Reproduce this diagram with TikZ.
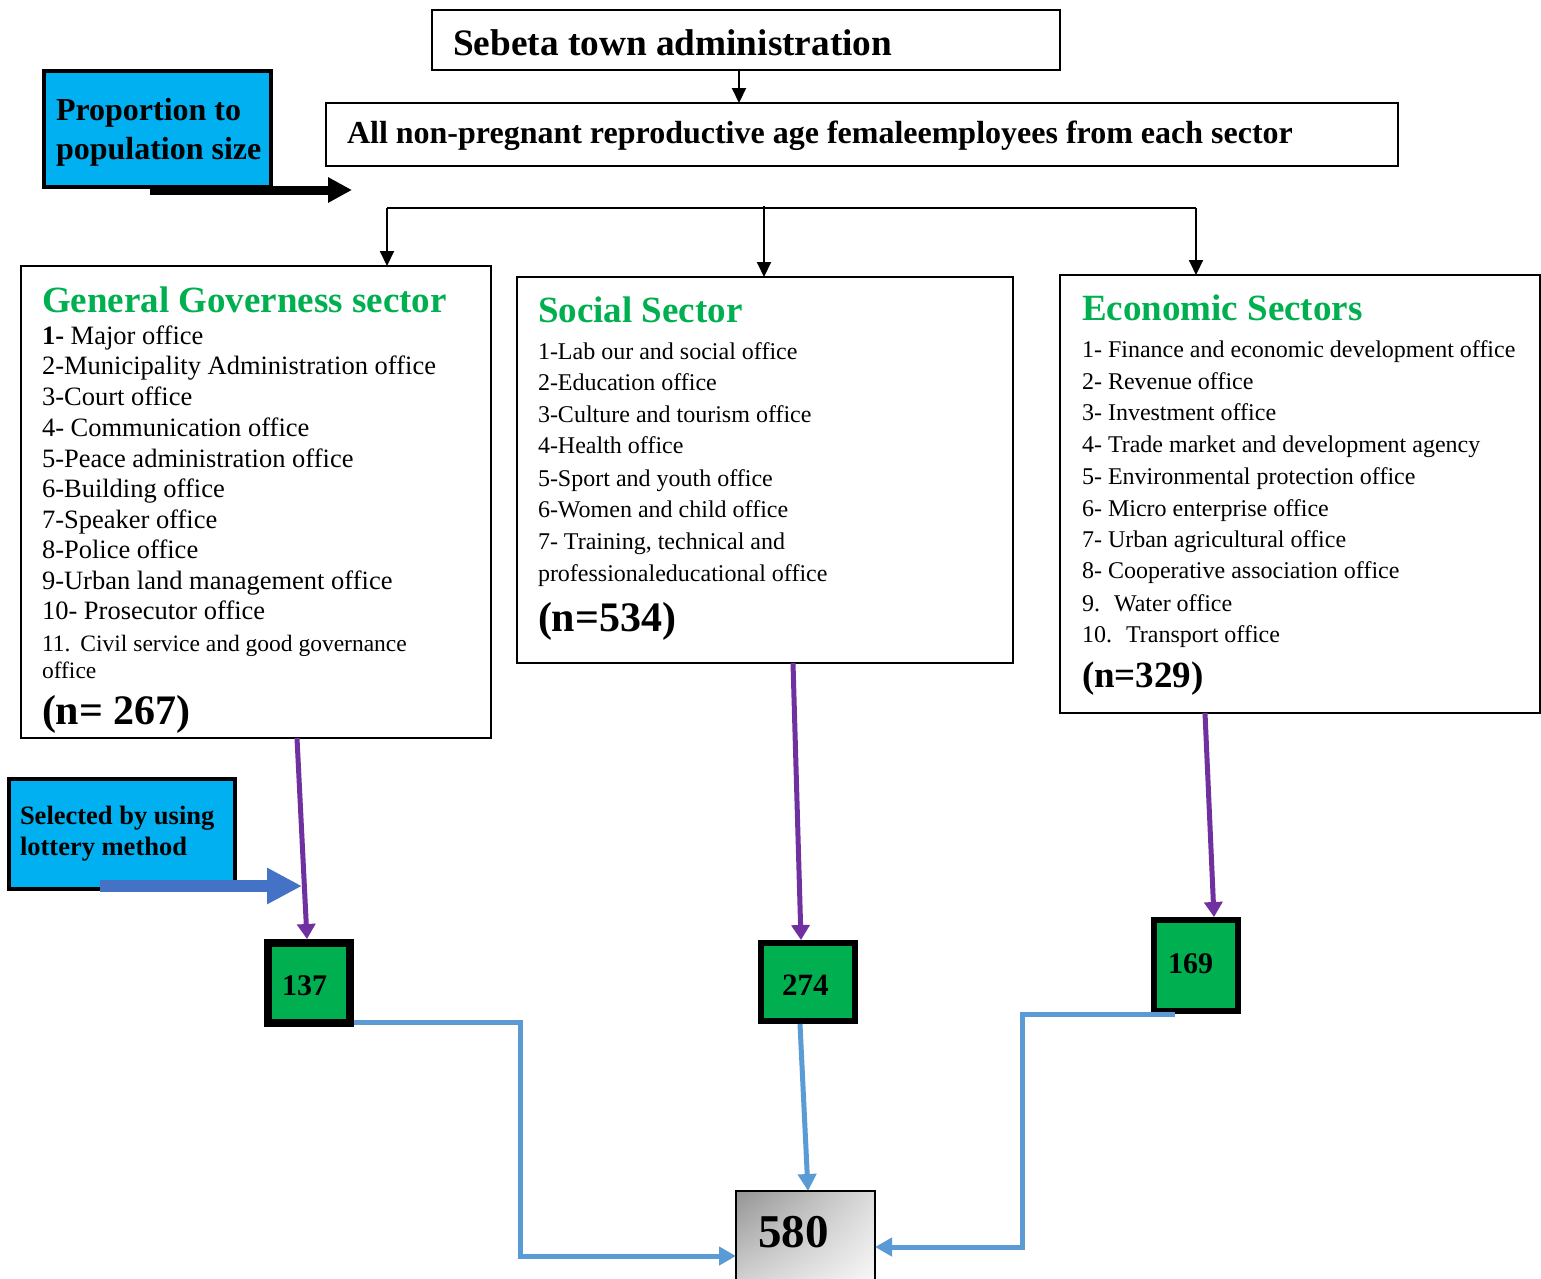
\documentclass[tikz,border=0pt]{standalone}
\usepackage{fontspec}
\setmainfont{Liberation Serif}
\usetikzlibrary{arrows.meta,shadings}
\definecolor{cyanbox}{HTML}{00B0F0}
\definecolor{greenbox}{HTML}{00B050}
\definecolor{purp}{HTML}{7030A0}
\definecolor{lblue}{HTML}{5B9BD5}
\definecolor{dblue}{HTML}{4472C4}
\begin{document}
\begin{tikzpicture}[x=1pt,y=-1pt,
  box/.style={draw=black, line width=2pt, inner sep=0pt, outer sep=0pt, anchor=north west},
  cbox/.style={draw=black, line width=4pt, fill=cyanbox, inner sep=0pt, outer sep=0pt, anchor=north west},
  gbox/.style={draw=black, line width=#1, fill=greenbox, inner sep=0pt, outer sep=0.5*#1, anchor=north west},
  txt/.style={anchor=base west, inner sep=0pt, outer sep=0pt},
  head/.style={txt, font=\fontsize{37}{44}\selectfont\bfseries, text=greenbox},
  ggitem/.style={txt, font=\fontsize{26.5}{30}\selectfont},
  ggsmall/.style={txt, font=\fontsize{23.5}{28}\selectfont},
  item/.style={txt, font=\fontsize{24}{29}\selectfont},
  thinarrow/.style={draw=black, line width=2pt, -{Triangle[length=15pt,width=14pt]}},
  purparrow/.style={draw=purp, line width=5pt, -{Triangle[length=15pt,width=18pt]}},
  bluearrow/.style={draw=lblue, line width=5pt, -{Triangle[length=17pt,width=18pt]}},
]
\useasboundingbox (0,0) rectangle (1541,1278);
\clip (0,0) rectangle (1541,1278);
\fill[white] (0,0) rectangle (1541,1278);

% top boxes
\node[box, minimum width=628, minimum height=60] (seb) at (432,10) {};
\node[txt, font=\fontsize{37.3}{44}\selectfont\bfseries] (sebt) at (453,55) {Sebeta town administration};
\node[box, minimum width=1072, minimum height=63] (all) at (326,103) {};
\node[txt, font=\fontsize{32}{38}\selectfont\bfseries] (allt) at (347,143) {All non-pregnant reproductive age femaleemployees from each sector};

\coordinate (xs) at (739,0);
\draw[thinarrow] (seb.south -| xs) -- (all.north -| xs);

% proportion box
\node[cbox, minimum width=227, minimum height=116] (prop) at (44,71) {};
\node[txt, font=\fontsize{32}{38}\selectfont\bfseries] (prop1) at (56,120) {Proportion to};
\node[txt, font=\fontsize{32}{38}\selectfont\bfseries] (prop2) at (56,159) {population size};
\coordinate (pa) at (150,190);
\coordinate (pb) at (352,190);
\draw[line width=9pt, -{Triangle[length=24pt,width=24pt]}] (pa) -- (pb);

% sector boxes
\node[box, minimum width=470, minimum height=472] (gg) at (21,266) {};
\node[box, minimum width=496, minimum height=386] (soc) at (517,277) {};
\node[box, minimum width=480, minimum height=438] (eco) at (1060,275) {};

% branch
\coordinate (b1) at (387,208);
\coordinate (b2) at (764,208);
\coordinate (b3) at (1196,208);
\draw[black, line width=2pt] (b1) -- (b3);
\draw[thinarrow] (b1) -- (gg.north -| b1);
\draw[thinarrow] ([yshift=2pt]b2) -- (soc.north -| b2);
\draw[thinarrow] (b3) -- (eco.north -| b3);

% general governess
\node[head] (ggh) at (42,312) {General Governess sector};
\foreach \y/\t [count=\i] in {344/{\textbf{1-} Major office},
  374/{2-Municipality Administration office},
  405/{3-Court office},
  436/{4- Communication office},
  467/{5-Peace administration office},
  497/{6-Building office},
  528/{7-Speaker office},
  558/{8-Police office},
  589/{9-Urban land management office},
  619/{10- Prosecutor office}}
  \node[ggitem] (gg\i) at (42,\y) {\t};
\node[ggsmall] (gg11) at (42,651) {11.\hspace{10pt}Civil service and good governance};
\node[ggsmall] (gg12) at (42,678) {office};
\node[txt, font=\fontsize{42}{48}\selectfont\bfseries] (ggn) at (42,724) {(n= 267)};

% social
\node[head] (soch) at (538,322) {Social Sector};
\foreach \y/\t [count=\i] in {359/{1-Lab our and social office},
  390/{2-Education office},
  422/{3-Culture and tourism office},
  453/{4-Health office},
  486/{5-Sport and youth office},
  517/{6-Women and child office},
  549/{7- Training, technical and},
  581/{professionaleducational office}}
  \node[item] (soc\i) at (538,\y) {\t};
\node[txt, font=\fontsize{42}{48}\selectfont\bfseries] (socn) at (538,631) {(n=534)};

% economic
\node[head] (ecoh) at (1082,320) {Economic Sectors};
\foreach \y/\t [count=\i] in {357/{1- Finance and economic development office},
  389/{2- Revenue office},
  420/{3- Investment office},
  452/{4- Trade market and development agency},
  484/{5- Environmental protection office},
  516/{6- Micro enterprise office},
  547/{7- Urban agricultural office},
  578/{8- Cooperative association office},
  611/{9.\hspace{14pt}Water office},
  642/{10.\hspace{14pt}Transport office}}
  \node[item] (eco\i) at (1082,\y) {\t};
\node[txt, font=\fontsize{37}{44}\selectfont\bfseries] (econ) at (1082,687) {(n=329)};

% selected box
\node[cbox, minimum width=226, minimum height=110] (sel) at (9,779) {};
\node[txt, font=\fontsize{26.5}{30}\selectfont\bfseries] (sel1) at (20,824) {Selected by using};
\node[txt, font=\fontsize{26.5}{30}\selectfont\bfseries] (sel2) at (20,855) {lottery method};

% number boxes
\node[gbox=8pt, minimum width=82, minimum height=80] (n137) at (264,939) {};
\node[txt, font=\fontsize{30}{36}\selectfont\bfseries] (t137) at (282,995) {137};
\node[gbox=6pt, minimum width=94, minimum height=78] (n274) at (758,940) {};
\node[txt, font=\fontsize{31}{36}\selectfont\bfseries] (t274) at (782,995) {274};
\node[gbox=6pt, minimum width=84, minimum height=91] (n169) at (1151,917) {};
\node[txt, font=\fontsize{30}{36}\selectfont\bfseries] (t169) at (1168,973) {169};

\node[draw=black, line width=2pt, inner sep=0pt, outer sep=0pt, anchor=north west,
  minimum width=139, minimum height=91,
  upper left=black!42, upper right=black!14, lower left=black!18, lower right=black!3] (n580) at (736,1191) {};
\node[txt, font=\fontsize{47}{54}\selectfont\bfseries] (t580) at (758,1247) {580};

% lottery arrow
\coordinate (sa) at (100,886);
\coordinate (sb) at (302,886);
\draw[dblue, line width=12pt, -{Triangle[length=35pt,width=34pt]}] (sa) -- (sb);

% purple arrows
\coordinate (xa) at (297,0); \coordinate (xb) at (307,0);
\coordinate (xc) at (793,0); \coordinate (xd) at (801,0);
\coordinate (xe) at (1205,0); \coordinate (xf) at (1214,0);
\draw[purparrow] (gg.south -| xa) -- (n137.north -| xb);
\draw[purparrow] (soc.south -| xc) -- (n274.north -| xd);
\draw[purparrow] (eco.south -| xe) -- (n169.north -| xf);

% blue connectors
\coordinate (c1) at (520,1022);
\coordinate (c2) at (520,1256);
\draw[bluearrow] (n137.east |- c1) -- (c1) -- (c2) -- (n580.west |- c2);
\coordinate (xm1) at (800,0); \coordinate (xm2) at (808,0);
\draw[bluearrow] (n274.south -| xm1) -- (n580.north -| xm2);
\coordinate (xr) at (1175,0);
\coordinate (c3) at (1022,1014);
\coordinate (c4) at (1022,1247);
\draw[bluearrow] (n169.south -| xr) -- (c3) -- (c4) -- (n580.east |- c4);
\end{tikzpicture}
\end{document}
